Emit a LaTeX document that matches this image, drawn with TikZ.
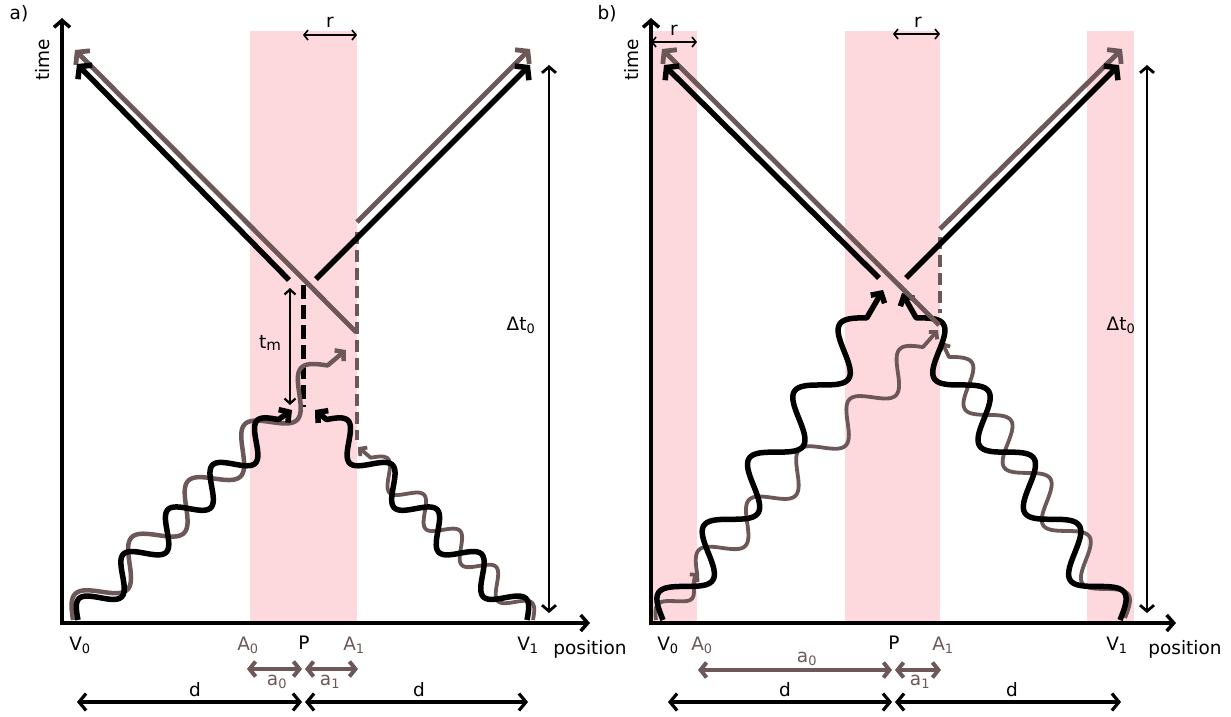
\documentclass[tikz,border=0pt]{standalone}
\usepackage{fontspec}
\setmainfont{DejaVu Sans}
\usetikzlibrary{arrows.meta}
\definecolor{gr}{RGB}{108,88,88}
\definecolor{pk}{RGB}{253,217,222}
\tikzset{
 lbl/.style={font=\fontsize{18.5}{22}\selectfont, inner sep=0pt, anchor=base},
 glbl/.style={lbl, text=gr},
 axis/.style={line width=3.5pt, line join=miter, {Straight Barb[length=7pt,width=16pt]}-{Straight Barb[length=7pt,width=16pt]}},
 dtarr/.style={line width=2.8pt, {Straight Barb[length=6pt,width=14pt]}-{Straight Barb[length=6pt,width=14pt]}},
 tmarr/.style={line width=2.2pt, {Straight Barb[length=5pt,width=11pt]}-{Straight Barb[length=5pt,width=11pt]}},
 rarr/.style={line width=1.6pt, {Straight Barb[length=4pt,width=10pt]}-{Straight Barb[length=4pt,width=10pt]}},
 darr/.style={line width=3.2pt, {Straight Barb[length=7pt,width=17pt]}-{Straight Barb[length=7pt,width=17pt]}},
 aarr/.style={draw=gr, line width=4pt, {Straight Barb[length=6pt,width=15pt]}-{Straight Barb[length=6pt,width=15pt]}},
 xblk/.style={line width=5.5pt, -{Straight Barb[length=8pt,width=20pt]}},
 xgr/.style={draw=gr, line width=4.8pt, -{Straight Barb[length=8pt,width=20pt]}},
 bw/.style={line width=5.5pt, line join=round, -{Straight Barb[length=7pt,width=16pt]}},
 gw/.style={draw=gr, line width=4.5pt, line join=round, -{Straight Barb[length=6pt,width=14pt]}},
 gws/.style={draw=gr, line width=3.8pt, line join=round, -{Straight Barb[length=5pt,width=11pt]}},
 dblk/.style={line width=5pt, dash pattern=on 14pt off 6pt},
 dgr/.style={draw=gr, line width=4pt, dash pattern=on 12pt off 6pt},
 band/.style={fill=pk, draw=none},
}
% wave: style, Sx, Sy, angle, side, length, wavelength, amplitude, extra path
\newcommand{\wv}[9]{\draw[#1] plot[domain=0:#6, samples=180, variable=\q]
 ({#2+\q*cos(#4)-(#5)*(#8)*sin((360/#7)*\q)*sin(#4)},
  {#3-\q*sin(#4)-(#5)*(#8)*sin((360/#7)*\q)*cos(#4)}) #9;}
\begin{document}
\begin{tikzpicture}[x=1pt,y=-1pt]
\useasboundingbox (0,0) rectangle (1231,716);
% ---------------- bands
\fill[band] (250,31) rectangle (357,623);
\fill[band] (651,31) rectangle (697,623);
\fill[band] (845,31) rectangle (940,623);
\fill[band] (1087,31) rectangle (1134,623);

% ================= panel a
\node[lbl, anchor=center] (la) at (19,14) {a)};
\coordinate (Oa) at (62,623); \coordinate (Ta) at (62,18); \coordinate (Xa) at (590,623);
\draw[axis] (Ta) -- (Oa) -- (Xa);
\node[lbl, anchor=center, rotate=90] (timea) at (43,60) {time};
\node[lbl] (posa) at (590,654) {position};
\coordinate (ra1) at (303,35); \coordinate (ra2) at (357,35);
\draw[rarr] (ra1) -- (ra2);
\node[lbl] (rla) at (330,27) {r};
\coordinate (dta1) at (549,65); \coordinate (dta2) at (549,613);
\draw[dtarr] (dta1) -- (dta2);
\node[lbl] (dtla) at (521,330) {Δt\textsubscript{0}};
\coordinate (tma1) at (290,288); \coordinate (tma2) at (290,405);
\draw[tmarr] (tma1) -- (tma2);
\node[lbl] (tmla) at (270,348) {t\raisebox{-0.2ex}{\fontsize{15}{15}\selectfont m}};
% dashed
\coordinate (dba1) at (303,285); \coordinate (dba2) at (303,407);
\draw[dblk] (dba1) -- (dba2);
\coordinate (dga1) at (357,232); \coordinate (dga2) at (357,440);
\draw[dgr] (dga1) -- (dga2);
% waves
\wv{gw}{73}{620}{45}{1}{360}{80}{17}{-- (346,350)}
\wv{bw}{78}{620}{45}{1}{283.5}{63}{14.5}{-- (292,410)}
\wv{gws}{533}{620}{135}{-1}{229.5}{51}{11.5}{-- (358,447)}
\wv{bw}{527}{620}{135}{-1}{283.5}{63}{14.5}{-- (315,410)}
% X arrows
\coordinate (gla1) at (356,332); \coordinate (gla2) at (75,50);
\coordinate (gra1) at (357,222); \coordinate (gra2) at (530,49);
\coordinate (bla1) at (289,280); \coordinate (bla2) at (77,64);
\coordinate (bra1) at (316,279); \coordinate (bra2) at (530,65);
\draw[xgr] (gla1) -- (gla2);
\draw[xgr] (gra1) -- (gra2);
\draw[xblk] (bla1) -- (bla2);
\draw[xblk] (bra1) -- (bra2);
% bottom labels
\node[lbl] (V0a) at (80,650) {V\textsubscript{0}};
\node[glbl] (A0a) at (248,650) {A\textsubscript{0}};
\node[lbl] (Pa) at (304,649) {P};
\node[glbl] (A1a) at (354,650) {A\textsubscript{1}};
\node[lbl] (V1a) at (528,650) {V\textsubscript{1}};
\coordinate (a0a1) at (247,669); \coordinate (a0a2) at (302,669);
\coordinate (a1a1) at (305,669); \coordinate (a1a2) at (358,669);
\draw[aarr] (a0a1) -- (a0a2);
\draw[aarr] (a1a1) -- (a1a2);
\node[glbl] (a0la) at (277,685) {a\textsubscript{0}};
\node[glbl] (a1la) at (330,685) {a\textsubscript{1}};
\coordinate (da1) at (77,702); \coordinate (da2) at (302,702);
\coordinate (da3) at (305,702); \coordinate (da4) at (528,702);
\draw[darr] (da1) -- (da2);
\draw[darr] (da3) -- (da4);
\node[lbl] (dla1) at (195,696) {d};
\node[lbl] (dla2) at (419,696) {d};

% ================= panel b
\node[lbl, anchor=center] (lb) at (607,14) {b)};
\coordinate (Ob) at (651,623); \coordinate (Tb) at (651,18); \coordinate (Xb) at (1176,623);
\draw[axis] (Tb) -- (Ob) -- (Xb);
\node[lbl, anchor=center, rotate=90] (timeb) at (632,60) {time};
\node[lbl] (posb) at (1185,654) {position};
\coordinate (rb1) at (651,42); \coordinate (rb2) at (697,42);
\draw[rarr] (rb1) -- (rb2);
\node[lbl] (rlb1) at (674,35) {r};
\coordinate (rb3) at (893,34); \coordinate (rb4) at (940,34);
\draw[rarr] (rb3) -- (rb4);
\node[lbl] (rlb2) at (918,27) {r};
\coordinate (dtb1) at (1147,65); \coordinate (dtb2) at (1147,613);
\draw[dtarr] (dtb1) -- (dtb2);
\node[lbl] (dtlb) at (1121,330) {Δt\textsubscript{0}};
\coordinate (dgb1) at (940,237); \coordinate (dgb2) at (940,313);
\draw[dgr] (dgb1) -- (dgb2);
% waves
\draw[gws] (656,620) .. controls (654,606) and (657,601) .. (668,601)
  .. controls (684,601) and (694,604) .. (694,592) .. controls (694,584) and (693,579) .. (699,573);
\wv{gws}{697}{573}{45}{1}{319.5}{71}{15}{-- (938,330)}
\wv{gws}{1125}{618}{124}{-1}{315}{70}{16}{-- (942,342)}
\wv{bw}{663}{620}{56}{1}{364.5}{81}{19}{-- (883,290)}
\wv{bw}{1120}{620}{124}{-1}{364.5}{81}{19}{-- (902,293)}
% X arrows
\coordinate (glb1) at (939,325); \coordinate (glb2) at (662,49);
\coordinate (grb1) at (940,229); \coordinate (grb2) at (1122,49);
\coordinate (blb1) at (879,278); \coordinate (blb2) at (664,65);
\coordinate (brb1) at (906,278); \coordinate (brb2) at (1119,65);
\draw[xgr] (glb1) -- (glb2);
\draw[xgr] (grb1) -- (grb2);
\draw[xblk] (blb1) -- (blb2);
\draw[xblk] (brb1) -- (brb2);
% bottom labels
\node[lbl] (V0b) at (668,650) {V\textsubscript{0}};
\node[glbl] (A0b) at (702,650) {A\textsubscript{0}};
\node[lbl] (Pb) at (894,649) {P};
\node[glbl] (A1b) at (943,650) {A\textsubscript{1}};
\node[lbl] (V1b) at (1117,650) {V\textsubscript{1}};
\coordinate (a0b1) at (698,670); \coordinate (a0b2) at (892,670);
\coordinate (a1b1) at (895,670); \coordinate (a1b2) at (941,670);
\draw[aarr] (a0b1) -- (a0b2);
\draw[aarr] (a1b1) -- (a1b2);
\node[glbl] (a0lb) at (807,662) {a\textsubscript{0}};
\node[glbl] (a1lb) at (920,685) {a\textsubscript{1}};
\coordinate (db1) at (668,702); \coordinate (db2) at (892,702);
\coordinate (db3) at (895,702); \coordinate (db4) at (1121,702);
\draw[darr] (db1) -- (db2);
\draw[darr] (db3) -- (db4);
\node[lbl] (dlb1) at (785,696) {d};
\node[lbl] (dlb2) at (1012,696) {d};
\end{tikzpicture}
\end{document}
